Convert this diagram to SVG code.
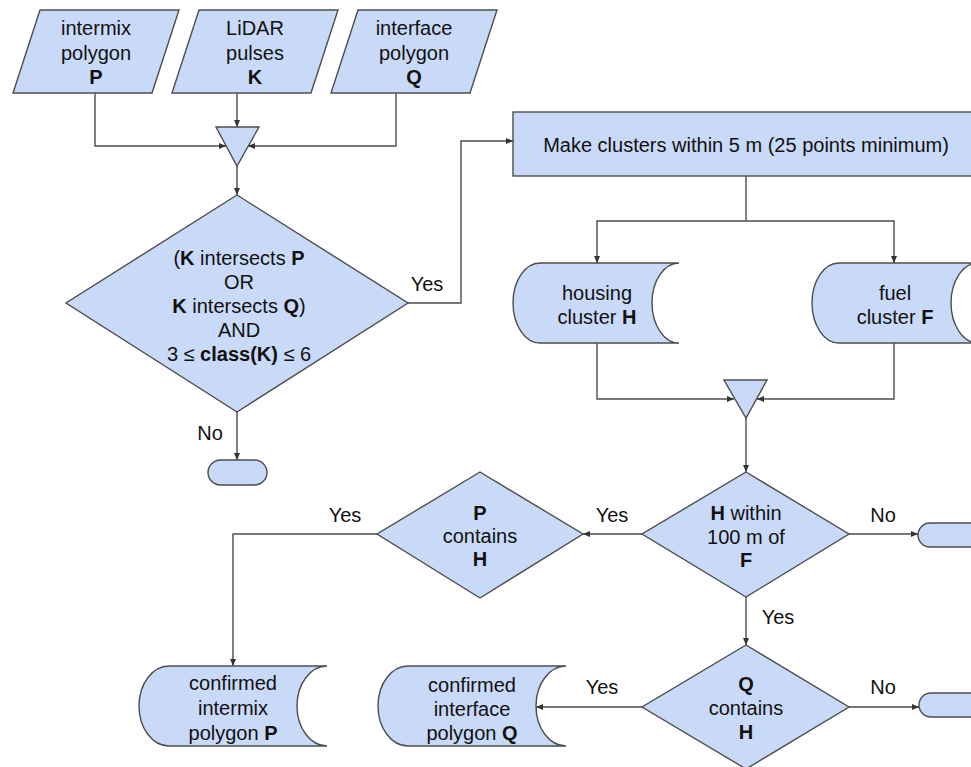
<svg xmlns="http://www.w3.org/2000/svg" width="971" height="767" viewBox="0 0 971 767">
  <defs>
    <marker id="arrow" markerUnits="userSpaceOnUse" markerWidth="8" markerHeight="6" refX="7" refY="3" orient="auto">
      <path d="M0,0 L7,3 L0,6 Z" fill="#333"/>
    </marker>
    <style>
      .shape { fill: #c9daf8; stroke: #4d4d4d; stroke-width: 1.4; }
      .link { fill: none; stroke: #4d4d4d; stroke-width: 1.4; }
      .arr { marker-end: url(#arrow); }
      text { font-family: "Liberation Sans", Arial, sans-serif; font-size: 20px; fill: #111; text-anchor: middle; }
      .b { font-weight: bold; }
    </style>
  </defs>
  <rect width="971" height="767" fill="#fff"/>

  <!-- connectors -->
  <g id="connectors">
    <path class="link arr" d="M95,93 V146 H226"/>
    <path class="link arr" d="M237,93 V127"/>
    <path class="link arr" d="M396,93 V146 H248"/>
    <path class="link arr" d="M237,166 V195"/>
    <path class="link arr" d="M408,303 H461 V141 H513"/>
    <path class="link arr" d="M237,412 V460"/>
    <path class="link" d="M746,176 V221"/>
    <path class="link arr" d="M746,221 H597 V263"/>
    <path class="link arr" d="M746,221 H894 V263"/>
    <path class="link arr" d="M597,343 V399 H734"/>
    <path class="link arr" d="M894,343 V399 H757"/>
    <path class="link arr" d="M746,418 V472"/>
    <path class="link arr" d="M849,534 H918"/>
    <path class="link arr" d="M642,534 H583"/>
    <path class="link arr" d="M377,534 H233 V666"/>
    <path class="link arr" d="M746,597 V645"/>
    <path class="link arr" d="M642,707 H536"/>
    <path class="link arr" d="M849,707 H919"/>
  </g>

  <!-- inputs -->
  <g id="input-p">
    <polygon class="shape" points="40,10 179,10 152,93 13,93"/>
    <text x="96" y="35">intermix</text>
    <text x="96" y="60">polygon</text>
    <text x="96" y="84" class="b">P</text>
  </g>
  <g id="input-k">
    <polygon class="shape" points="199,10 338,10 311,93 172,93"/>
    <text x="255" y="35">LiDAR</text>
    <text x="255" y="60">pulses</text>
    <text x="255" y="84" class="b">K</text>
  </g>
  <g id="input-q">
    <polygon class="shape" points="358,10 497,10 470,93 331,93"/>
    <text x="414" y="35">interface</text>
    <text x="414" y="60">polygon</text>
    <text x="414" y="84" class="b">Q</text>
  </g>

  <!-- merge of inputs -->
  <g id="merge-1">
    <polygon class="shape" points="216,127 259,127 237,166"/>
  </g>

  <!-- selection of pulses -->
  <g id="decision-pulses">
    <polygon class="shape" points="237,195 408,303 237,412 66,303"/>
    <text x="239" y="265">(<tspan class="b">K</tspan> intersects <tspan class="b">P</tspan></text>
    <text x="239" y="289">OR</text>
    <text x="239" y="313"><tspan class="b">K</tspan> intersects <tspan class="b">Q</tspan>)</text>
    <text x="239" y="337">AND</text>
    <text x="239" y="361">3 ≤ <tspan class="b">class(K)</tspan> ≤ 6</text>
    <text x="427" y="291">Yes</text>
    <text x="210" y="440">No</text>
  </g>
  <g id="end-1">
    <rect class="shape" x="208" y="460" width="59" height="25" rx="12.5"/>
  </g>

  <!-- clustering -->
  <g id="make-clusters">
    <rect class="shape" x="513" y="112" width="470" height="64"/>
    <text x="746" y="152">Make clusters within 5 m (25 points minimum)</text>
  </g>
  <g id="housing-cluster">
    <path class="shape" d="M540,263 H679 A27,40 0 0 0 679,343 H540 A27,40 0 0 1 540,263 Z"/>
    <text x="597" y="300">housing</text>
    <text x="597" y="324">cluster <tspan class="b">H</tspan></text>
  </g>
  <g id="fuel-cluster">
    <path class="shape" d="M839,263 H978 A27,40 0 0 0 978,343 H839 A27,40 0 0 1 839,263 Z"/>
    <text x="895" y="300">fuel</text>
    <text x="895" y="324">cluster <tspan class="b">F</tspan></text>
  </g>
  <g id="merge-2">
    <polygon class="shape" points="724,380 767,380 746,418"/>
  </g>

  <!-- proximity test -->
  <g id="decision-distance">
    <polygon class="shape" points="746,472 849,534 746,597 642,534"/>
    <text x="746" y="520"><tspan class="b">H</tspan> within</text>
    <text x="746" y="544">100 m of</text>
    <text x="746" y="567" class="b">F</text>
    <text x="883" y="522">No</text>
    <text x="612" y="522">Yes</text>
    <text x="778" y="624">Yes</text>
  </g>
  <g id="end-2">
    <rect class="shape" x="918" y="523" width="80" height="24" rx="12"/>
  </g>

  <g id="decision-p">
    <polygon class="shape" points="480,472 583,534 480,598 377,534"/>
    <text x="480" y="520" class="b">P</text>
    <text x="480" y="543">contains</text>
    <text x="480" y="566" class="b">H</text>
    <text x="345" y="522">Yes</text>
  </g>

  <g id="decision-q">
    <polygon class="shape" points="746,645 849,707 746,769 642,707"/>
    <text x="746" y="691" class="b">Q</text>
    <text x="746" y="715">contains</text>
    <text x="746" y="739" class="b">H</text>
    <text x="602" y="694">Yes</text>
    <text x="883" y="694">No</text>
  </g>
  <g id="end-3">
    <rect class="shape" x="919" y="693" width="80" height="24" rx="12"/>
  </g>

  <!-- results -->
  <g id="confirmed-intermix">
    <path class="shape" d="M169,666 H327 A30,40 0 0 0 327,746 H169 A30,40 0 0 1 169,666 Z"/>
    <text x="233" y="690">confirmed</text>
    <text x="233" y="715">intermix</text>
    <text x="233" y="740">polygon <tspan class="b">P</tspan></text>
  </g>
  <g id="confirmed-interface">
    <path class="shape" d="M408,666 H566 A30,40 0 0 0 566,746 H408 A30,40 0 0 1 408,666 Z"/>
    <text x="472" y="692">confirmed</text>
    <text x="472" y="716">interface</text>
    <text x="472" y="740">polygon <tspan class="b">Q</tspan></text>
  </g>
</svg>
